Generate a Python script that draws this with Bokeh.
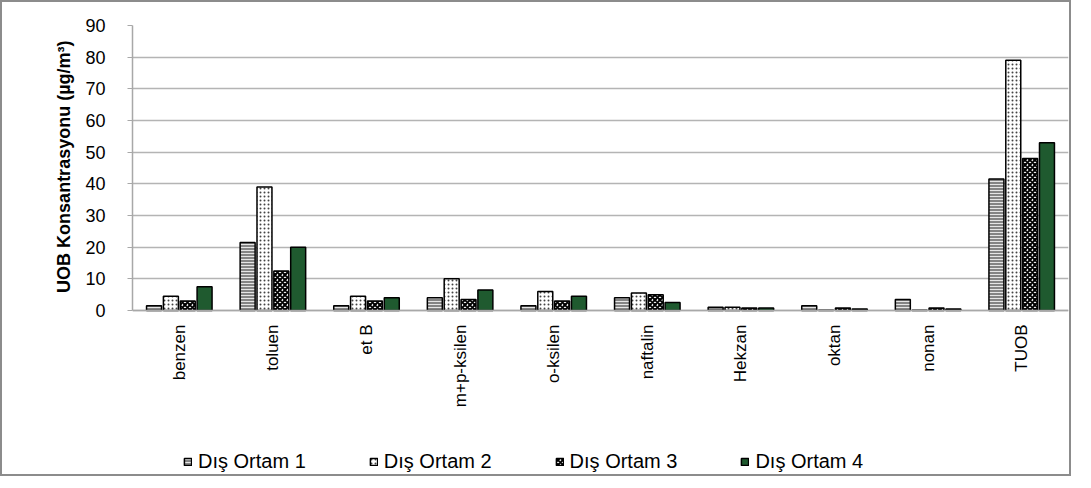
from bokeh.plotting import figure
from bokeh.models import ColumnDataSource, Range1d, FactorRange, Legend, Title
from bokeh.transform import dodge
from bokeh.embed import file_html
from bokeh.resources import INLINE
import math

categories = ["benzen", "toluen", "et B", "m+p-ksilen", "o-ksilen", "naftalin",
              "Hekzan", "oktan", "nonan", "TUOB"]
dis_ortam_1 = [1.5, 21.5, 1.5, 4.0, 1.5, 4.0, 1.0, 1.5, 3.5, 41.5]
dis_ortam_2 = [4.5, 39.0, 4.5, 10.0, 6.0, 5.5, 1.0, 0.1, 0.1, 79.0]
dis_ortam_3 = [3.0, 12.5, 3.0, 3.5, 3.0, 5.0, 0.8, 0.8, 0.8, 48.0]
dis_ortam_4 = [7.5, 20.0, 4.0, 6.5, 4.5, 2.5, 0.8, 0.5, 0.5, 53.0]
series_names = ["Dış Ortam 1", "Dış Ortam 2", "Dış Ortam 3", "Dış Ortam 4"]
y_ticks = [0, 10, 20, 30, 40, 50, 60, 70, 80, 90]
y_title = "UOB Konsantrasyonu (µg/m³)"

source = ColumnDataSource(dict(cat=categories, s1=dis_ortam_1, s2=dis_ortam_2,
                               s3=dis_ortam_3, s4=dis_ortam_4))

FONT = "Liberation Sans"

# frame spans down to the bottom edge; the value axis runs 0..90 in its upper part
# and the category axis / legend sit in the lower part of the frame
p = figure(x_range=FactorRange(*categories), y_range=Range1d(-53.05, 90),
           width=1071, height=476, output_backend="svg", toolbar_location=None,
           min_border_left=130, min_border_right=5, min_border_top=23,
           min_border_bottom=0)
p.styles = {"border": "2px solid #8c8c8c"}

styles = [
    dict(fill_color="#858585", hatch_pattern="horizontal_line", hatch_color="#e6e6e6",
         hatch_scale=3, hatch_weight=1),
    dict(fill_color="white", hatch_pattern="dot", hatch_color="#444444",
         hatch_scale=4, hatch_weight=1),
    dict(fill_color="white", hatch_pattern="diagonal_cross", hatch_color="black",
         hatch_scale=5, hatch_weight=2),
    dict(fill_color="#1f5a2f"),
]
offsets = [-0.27, -0.09, 0.09, 0.27]
cols = ["s1", "s2", "s3", "s4"]
items = []
for col, off, st, name in zip(cols, offsets, styles, series_names):
    r = p.vbar(x=dodge("cat", off, range=p.x_range), top=col, width=0.16, source=source,
               line_color="black", line_width=1.5, **st)
    items.append((name, [r]))

p.xgrid.grid_line_color = None
p.ygrid.ticker = y_ticks
p.ygrid.grid_line_color = "#b4b4b4"
p.ygrid.grid_line_width = 1.5
p.outline_line_color = None

p.yaxis.ticker = y_ticks
p.yaxis.bounds = (0, 90)
p.yaxis.axis_line_color = "#a8a8a8"
p.yaxis.axis_line_width = 1.5
p.yaxis.major_tick_line_color = "#a8a8a8"
p.yaxis.major_tick_out = 5
p.yaxis.major_tick_in = 0
p.yaxis.minor_tick_line_color = None
p.yaxis.major_label_text_font = FONT
p.yaxis.major_label_text_font_size = "18px"
p.yaxis.major_label_text_color = "black"
p.yaxis.major_label_standoff = 22

# value-axis title, aligned to the 0..90 part of the frame
ytitle = Title(text=y_title, align="right", offset=15, standoff=18,
               text_font=FONT, text_font_style="bold", text_font_size="18px",
               text_color="black")
p.add_layout(ytitle, "left")

p.xaxis.fixed_location = 0
p.xaxis.axis_line_color = "#a8a8a8"
p.xaxis.axis_line_width = 1.5
p.xaxis.major_tick_line_color = None
p.xaxis.minor_tick_line_color = None
p.xaxis.major_label_orientation = math.pi / 2
p.xaxis.major_label_text_font = FONT
p.xaxis.major_label_text_font_size = "17px"
p.xaxis.major_label_text_color = "black"
p.xaxis.major_label_standoff = 8

lg = Legend(items=items, orientation="horizontal", location=(51, 5))
lg.border_line_color = None
lg.background_fill_alpha = 0
lg.padding = 0
lg.margin = 0
lg.glyph_width = 9
lg.glyph_height = 9
lg.label_standoff = 6
lg.spacing = 63
lg.label_text_font = FONT
lg.label_text_font_size = "20px"
lg.label_text_color = "black"
p.add_layout(lg, "center")

open("out.html", "w").write(file_html(p, INLINE))
